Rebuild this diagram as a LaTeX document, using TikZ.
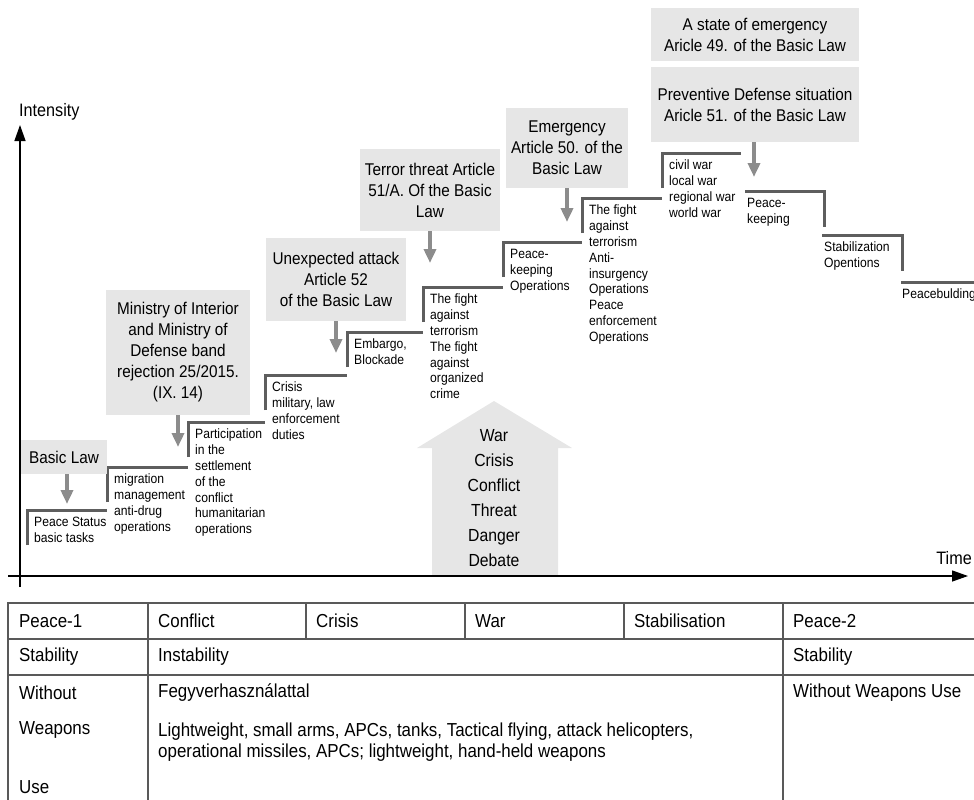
\documentclass[tikz,border=0pt]{standalone}
\usepackage{fontspec}
\setmainfont{Liberation Sans}[FakeStretch=0.9]
\usetikzlibrary{arrows.meta,positioning}
\tikzset{>=latex}
\definecolor{boxgray}{HTML}{E6E6E6}
\definecolor{arrowgray}{HTML}{8C8C8C}
\definecolor{linegray}{HTML}{5E5E5E}
\tikzset{lawbox/.style = {fill=boxgray, inner sep=0, align=center, font=\fontsize{17}{21}\selectfont}}
\tikzset{lawarrow/.style = {draw=arrowgray, line width=3.5pt, -{Triangle[width=12pt,length=14pt]}}}
\tikzset{stepline/.style = {draw=linegray, line width=3pt}}
\tikzset{steptext/.style = {anchor=north west, inner sep=0, align=left, font=\fontsize{13.5}{15.8}\selectfont}}
\tikzset{axisline/.style = {line width=1.3pt, -{Triangle[width=11pt,length=16pt]}}}
\tikzset{axislabel/.style = {inner sep=0, font=\fontsize{18}{20}\selectfont}}
\tikzset{celltext/.style = {anchor=west, inner sep=0, align=left, font=\fontsize{18.8}{21}\selectfont}}
\tikzset{tableline/.style = {draw=black!65, line width=1.2pt}}
\begin{document}
\begin{tikzpicture}[x=1pt, y=-1pt]
                    \useasboundingbox (0,0) rectangle (974,800);

                    \fill[boxgray] (432,576) -- (432,448) -- (417,448) -- (494,401)
                      -- (572,448) -- (558,448) -- (558,576) -- cycle;
                    \node[lawbox, font=\fontsize{17.5}{25}\selectfont] (threats) at (494,498)
                      {War\\Crisis\\Conflict\\Threat\\Danger\\Debate};

                    \coordinate (origin) at (20,576);
                    \draw[axisline] (8,576) -- (968,576);
                    \draw[axisline] (20,587) -- (20,125);
                    \node[axislabel, anchor=west] (intensity) at (19,112) {Intensity};
                    \node[axislabel, anchor=east] (time) at (972,558) {Time};

                    \foreach \n/\x/\y/\e/\t in {
                      peace/27/510/107/{Peace Status\\basic tasks},
                      migration/107/467/188/{migration\\management\\anti-drug\\operations},
                      settle/188/422/265/{Participation\\in the\\settlement\\of the\\conflict\\humanitarian\\operations},
                      crisis/265/375/347/{Crisis\\military, law\\enforcement\\duties},
                      embargo/347/332/423/{Embargo,\\Blockade},
                      terror/423/287/503/{The fight\\against\\terrorism\\The fight\\against\\organized\\crime},
                      keeping/503/242/582/{Peace-\\keeping\\Operations},
                      insurgency/582/198/662/{The fight\\against\\terrorism\\Anti-\\insurgency\\Operations\\Peace\\enforcement\\Operations},
                      wars/662/153/741/{civil war\\local war\\regional war\\world war}} {
                      \draw[stepline] (\x,\y+35) -- (\x,\y) -- (\e,\y);
                      \node[steptext] (\n) at (\x+7,\y+7) {\t};
                    }
                    \foreach \n/\x/\y/\e/\t in {
                      peacekeep/745/191/824/{Peace-\\keeping},
                      stabil/822/235/902/{Stabilization\\Opentions}} {
                      \draw[stepline] (\x,\y) -- (\e,\y) -- (\e,\y+36);
                      \node[steptext] (\n) at (\x+2,\y+7) {\t};
                    }
                    \draw[stepline] (901,282) -- (974,282);
                    \node[steptext] (peacebuild) at (902,289) {Peacebulding};

                    \node[lawbox, minimum width=86, minimum height=34] (basic) at (64,457) {Basic Law};
                    \node[lawbox, minimum width=144, minimum height=125] (ministry) at (178,352.5)
                      {Ministry of Interior\\and Ministry of\\Defense band\\rejection 25/2015.\\(IX. 14)};
                    \node[lawbox, minimum width=140, minimum height=83] (attack) at (336,279.5)
                      {Unexpected attack\\Article 52\\of the Basic Law};
                    \node[lawbox, minimum width=140, minimum height=82] (terrorlaw) at (430,190)
                      {Terror threat Article\\51/A. Of the Basic\\Law};
                    \node[lawbox, minimum width=122, minimum height=80] (emergency) at (567,148)
                      {Emergency\\Article 50. of the\\Basic Law};
                    \node[lawbox, minimum width=208, minimum height=75] (preventive) at (755,104.5)
                      {Preventive Defense situation\\Aricle 51. of the Basic Law};
                    \node[lawbox, minimum width=208, minimum height=53] (state) at (755,34.5)
                      {A state of emergency\\Aricle 49. of the Basic Law};

                    \coordinate (basictip) at (67,504);
                    \coordinate (ministrytip) at (178,447);
                    \coordinate (attacktip) at (336,353);
                    \coordinate (terrortip) at (430,263);
                    \coordinate (emergencytip) at (567,222);
                    \coordinate (preventivetip) at (754,177);
                    \draw[lawarrow] (basic.south -| basictip) -- (basictip);
                    \draw[lawarrow] (ministry.south -| ministrytip) -- (ministrytip);
                    \draw[lawarrow] (attack.south -| attacktip) -- (attacktip);
                    \draw[lawarrow] (terrorlaw.south -| terrortip) -- (terrortip);
                    \draw[lawarrow] (emergency.south -| emergencytip) -- (emergencytip);
                    \draw[lawarrow] (preventive.south -| preventivetip) -- (preventivetip);

                    \draw[tableline] (8,800) -- (8,603) -- (974,603);
                    \draw[tableline] (8,639) -- (974,639);
                    \draw[tableline] (8,675) -- (974,675);
                    \foreach \x in {148,783} {
                      \draw[tableline] (\x,603) -- (\x,800);
                    }
                    \foreach \x in {306,465,624} {
                      \draw[tableline] (\x,603) -- (\x,639);
                    }

                    \node[celltext] (peaceone) at (19,621) {Peace-1};
                    \node[celltext] (conflict) at (158,621) {Conflict};
                    \node[celltext] (crisiscol) at (316,621) {Crisis};
                    \node[celltext] (war) at (475,621) {War};
                    \node[celltext] (stabilisation) at (634,621) {Stabilisation};
                    \node[celltext] (peacetwo) at (793,621) {Peace-2};
                    \node[celltext] (stabilityone) at (19,657) {Stability};
                    \node[celltext] (instability) at (158,657) {Instability};
                    \node[celltext] (stabilitytwo) at (793,657) {Stability};
                    \node[celltext] (without) at (19,693) {Without};
                    \node[celltext] (weapons) at (19,730) {Weapons};
                    \node[celltext] (use) at (19,787) {Use};
                    \node[celltext] (fegyver) at (158,693) {Fegyverhasználattal};
                    \node[celltext] (arms) at (158,742)
                      {Lightweight, small arms, APCs, tanks, Tactical flying, attack helicopters,\\
                       operational missiles, APCs; lightweight, hand-held weapons};
                    \node[celltext] (noweapons) at (793,693) {Without Weapons Use};
                  \end{tikzpicture}
\end{document}
